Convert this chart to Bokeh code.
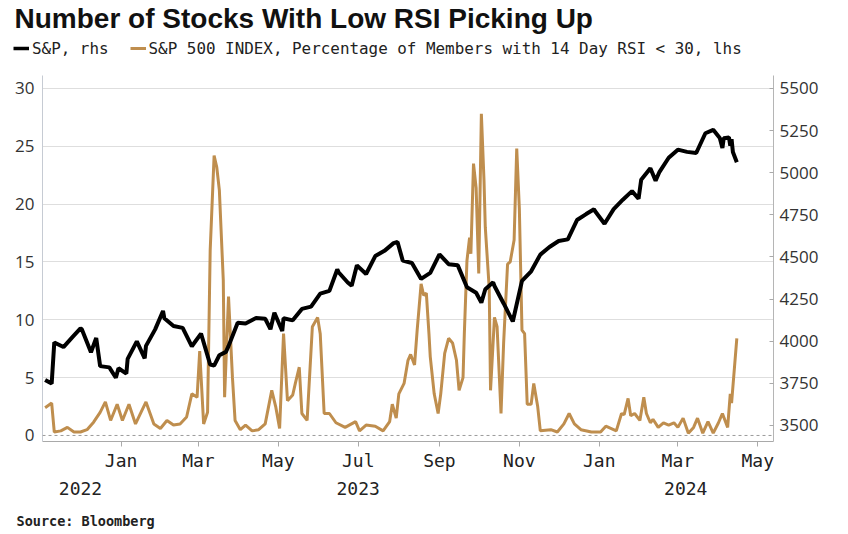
import pandas as pd
from bokeh.plotting import figure
from bokeh.layouts import column
from bokeh.models import (Range1d, LinearAxis, DatetimeAxis, FixedTicker, DatetimeTickFormatter,
                          Legend, LegendItem, Label, Span)
from bokeh.embed import file_html
from bokeh.resources import INLINE

# ---------------- data ----------------
spx_dates = ["2022-11-04", "2022-11-09", "2022-11-11", "2022-11-18", "2022-11-25", "2022-12-01",
             "2022-12-02", "2022-12-09", "2022-12-13", "2022-12-16", "2022-12-23", "2022-12-28",
             "2022-12-30", "2023-01-05", "2023-01-06", "2023-01-13", "2023-01-19", "2023-01-20",
             "2023-01-27", "2023-02-02", "2023-02-03", "2023-02-10", "2023-02-17", "2023-02-24",
             "2023-03-03", "2023-03-10", "2023-03-13", "2023-03-17", "2023-03-22", "2023-03-24",
             "2023-03-31", "2023-04-06", "2023-04-14", "2023-04-21", "2023-04-25", "2023-04-28",
             "2023-05-04", "2023-05-05", "2023-05-12", "2023-05-19", "2023-05-26", "2023-06-02",
             "2023-06-09", "2023-06-15", "2023-06-16", "2023-06-23", "2023-06-26", "2023-06-30",
             "2023-07-07", "2023-07-14", "2023-07-21", "2023-07-28", "2023-07-31", "2023-08-04",
             "2023-08-11", "2023-08-18", "2023-08-25", "2023-09-01", "2023-09-08", "2023-09-15",
             "2023-09-22", "2023-09-29", "2023-10-03", "2023-10-06", "2023-10-12", "2023-10-13",
             "2023-10-20", "2023-10-27", "2023-11-03", "2023-11-10", "2023-11-17", "2023-11-24",
             "2023-12-01", "2023-12-08", "2023-12-15", "2023-12-22", "2023-12-28", "2023-12-29",
             "2024-01-05", "2024-01-12", "2024-01-19", "2024-01-26", "2024-01-31", "2024-02-02",
             "2024-02-09", "2024-02-13", "2024-02-16", "2024-02-23", "2024-03-01", "2024-03-08",
             "2024-03-15", "2024-03-22", "2024-03-28", "2024-04-02", "2024-04-04", "2024-04-05",
             "2024-04-09", "2024-04-10", "2024-04-11", "2024-04-12", "2024-04-15"]
spx_values = [3770.55, 3748.57, 3992.93, 3965.34, 4026.12, 4076.57,
              4071.70, 3934.38, 4019.65, 3852.36, 3844.82, 3783.22,
              3839.50, 3808.10, 3895.08, 3999.09, 3898.85, 3972.61,
              4070.56, 4179.76, 4136.48, 4090.46, 4079.09, 3970.04,
              4045.64, 3861.59, 3855.76, 3916.64, 3936.97, 3970.99,
              4109.31, 4105.02, 4137.64, 4133.52, 4071.63, 4169.48,
              4061.22, 4136.25, 4124.08, 4191.98, 4205.45, 4282.37,
              4298.86, 4425.84, 4409.59, 4348.33, 4328.82, 4450.38,
              4398.95, 4505.42, 4536.34, 4582.23, 4588.96, 4478.03,
              4464.05, 4369.71, 4405.71, 4515.77, 4457.49, 4450.32,
              4320.06, 4288.05, 4229.45, 4308.50, 4349.61, 4327.78,
              4224.16, 4117.37, 4358.34, 4415.24, 4514.02, 4559.34,
              4594.63, 4604.37, 4719.19, 4754.63, 4783.35, 4769.83,
              4697.24, 4783.83, 4839.81, 4890.97, 4845.65, 4958.61,
              5026.61, 4953.17, 5005.57, 5088.80, 5137.08, 5123.69,
              5117.09, 5234.18, 5254.35, 5205.81, 5147.21, 5204.34,
              5209.91, 5160.64, 5199.06, 5123.41, 5061.82]

rsi_dates = ["2022-11-04", "2022-11-09", "2022-11-11", "2022-11-16", "2022-11-21", "2022-11-26",
             "2022-12-01", "2022-12-06", "2022-12-11", "2022-12-16", "2022-12-20", "2022-12-24",
             "2022-12-29", "2023-01-02", "2023-01-07", "2023-01-12", "2023-01-20", "2023-01-26",
             "2023-01-31", "2023-02-05", "2023-02-10", "2023-02-15", "2023-02-20", "2023-02-24",
             "2023-02-28", "2023-03-02", "2023-03-05", "2023-03-08", "2023-03-10", "2023-03-13",
             "2023-03-15", "2023-03-17", "2023-03-20", "2023-03-21", "2023-03-24", "2023-03-27",
             "2023-03-29", "2023-04-02", "2023-04-06", "2023-04-11", "2023-04-16", "2023-04-21",
             "2023-04-26", "2023-04-29", "2023-05-02", "2023-05-05", "2023-05-08", "2023-05-12",
             "2023-05-14", "2023-05-17", "2023-05-19", "2023-05-23", "2023-05-27", "2023-05-31",
             "2023-06-02", "2023-06-05", "2023-06-09", "2023-06-14", "2023-06-21", "2023-06-29",
             "2023-07-02", "2023-07-07", "2023-07-14", "2023-07-20", "2023-07-25", "2023-07-27",
             "2023-07-30", "2023-08-01", "2023-08-05", "2023-08-08", "2023-08-10", "2023-08-13",
             "2023-08-15", "2023-08-18", "2023-08-20", "2023-08-22", "2023-08-24", "2023-08-25",
             "2023-08-28", "2023-08-31", "2023-09-02", "2023-09-05", "2023-09-08", "2023-09-11",
             "2023-09-14", "2023-09-16", "2023-09-19", "2023-09-20", "2023-09-22", "2023-09-24",
             "2023-09-25", "2023-09-27", "2023-09-29", "2023-10-01", "2023-10-03", "2023-10-05",
             "2023-10-06", "2023-10-09", "2023-10-10", "2023-10-13", "2023-10-15", "2023-10-18",
             "2023-10-20", "2023-10-23", "2023-10-25", "2023-10-28", "2023-10-30", "2023-11-01",
             "2023-11-03", "2023-11-05", "2023-11-07", "2023-11-10", "2023-11-12", "2023-11-15",
             "2023-11-17", "2023-11-25", "2023-11-30", "2023-12-05", "2023-12-09", "2023-12-13",
             "2023-12-18", "2023-12-26", "2024-01-02", "2024-01-06", "2024-01-14", "2024-01-18",
             "2024-01-20", "2024-01-23", "2024-01-25", "2024-01-28", "2024-02-01", "2024-02-04",
             "2024-02-06", "2024-02-09", "2024-02-11", "2024-02-15", "2024-02-19", "2024-02-23",
             "2024-02-27", "2024-03-01", "2024-03-05", "2024-03-09", "2024-03-13", "2024-03-16",
             "2024-03-20", "2024-03-24", "2024-03-28", "2024-04-01", "2024-04-04", "2024-04-08",
             "2024-04-10", "2024-04-11", "2024-04-15"]
rsi_values = [2.4, 2.8, 0.3, 0.4, 0.7, 0.3,
              0.3, 0.5, 1.15, 2.0, 2.9, 1.3,
              2.7, 1.3, 2.7, 1.0, 2.9, 1.0,
              0.6, 1.3, 0.9, 1.0, 1.6, 3.6,
              3.3, 7.3, 1.0, 2.0, 16.0, 24.2,
              23.2, 21.2, 13.4, 3.3, 12.0, 5.0,
              1.3, 0.5, 0.9, 0.4, 0.5, 1.0,
              3.9, 2.5, 0.6, 8.8, 3.0, 3.5,
              4.5, 5.9, 1.9, 1.3, 9.4, 10.2,
              8.8, 1.9, 1.9, 1.1, 0.7, 1.2,
              0.4, 0.9, 0.8, 0.4, 1.2, 2.7,
              1.5, 3.6, 4.5, 6.5, 7.0, 6.1,
              9.1, 13.1, 12.1, 12.3, 8.8, 6.8,
              3.6, 1.9, 3.6, 7.1, 8.4, 8.0,
              6.5, 3.9, 5.0, 8.8, 15.1, 17.1,
              15.7, 23.5, 21.4, 14.0, 27.8, 22.1,
              18.0, 12.7, 3.9, 10.2, 9.4, 1.9,
              8.0, 14.8, 15.0, 16.9, 24.8, 19.6,
              9.1, 8.8, 2.7, 2.7, 4.5, 2.5,
              0.4, 0.5, 0.3, 1.0, 1.9, 1.0,
              0.5, 0.3, 0.3, 0.8, 0.4, 1.9,
              1.8, 3.2, 1.7, 1.9, 1.3, 3.3,
              1.9, 1.1, 1.4, 0.7, 1.1, 0.9,
              1.1, 0.7, 1.5, 0.2, 0.7, 1.5,
              0.2, 1.2, 0.2, 1.1, 1.9, 0.7,
              3.6, 2.8, 8.4]

left_ticks = [0, 5, 10, 15, 20, 25, 30]
right_ticks = [3500, 3750, 4000, 4250, 4500, 4750, 5000, 5250, 5500]
month_tick_dates = ["2023-01-01", "2023-03-01", "2023-05-01", "2023-07-01", "2023-09-01",
                    "2023-11-01", "2024-01-01", "2024-03-01", "2024-05-01"]
year_label_dates = ["2022-12-01", "2023-07-01", "2024-03-07"]

title_text = "Number of Stocks With Low RSI Picking Up"
spx_label = "S&P, rhs"
rsi_label = "S&P 500 INDEX, Percentage of Members with 14 Day RSI < 30, lhs"
source_text = "Source: Bloomberg"

SPX_COLOR = "black"
RSI_COLOR = "#bf8e4e"
MONO = "DejaVu Sans Mono"
W = 848
NAN = float("nan")


def ms(d):
    return pd.Timestamp(d).timestamp() * 1000.0


def blank(height):
    f = figure(width=W, height=height, x_range=Range1d(0, W), y_range=Range1d(0, height),
               x_axis_type=None, y_axis_type=None, output_backend="svg",
               toolbar_location=None, min_border=0, frame_align=False)
    f.outline_line_color = None
    f.grid.visible = False
    f.background_fill_color = "white"
    f.border_fill_color = "white"
    return f


# ---------------- header: title + legend ----------------
head = blank(70)
head.add_layout(Label(x=14, y=52, x_units="screen", y_units="screen", text=title_text,
                      text_font="Liberation Sans", text_font_style="bold",
                      text_font_size="28px", text_color="#111111", text_baseline="middle"))
# legend-only renderers (they hold no visible data)
h_spx = head.line(x=[NAN], y=[NAN], line_color=SPX_COLOR, line_width=3.5)
h_rsi = head.line(x=[NAN], y=[NAN], line_color=RSI_COLOR, line_width=3)
legend = Legend(items=[LegendItem(label=spx_label, renderers=[h_spx]),
                       LegendItem(label=rsi_label, renderers=[h_rsi])],
                location=(13, 12), orientation="horizontal",
                glyph_width=16, glyph_height=20, label_height=20, label_standoff=3,
                spacing=21, padding=0, margin=0,
                border_line_color=None, background_fill_alpha=0,
                label_text_font=MONO, label_text_font_size="15.9px",
                label_text_color="#222222")
head.add_layout(legend)

# ---------------- main chart ----------------
p = figure(width=W, height=435, x_axis_type="datetime",
           x_range=Range1d(pd.Timestamp("2022-11-02"), pd.Timestamp("2024-05-13")),
           y_range=Range1d(-0.52, 31.11),
           output_backend="svg", toolbar_location=None,
           min_border_left=42, min_border_right=75, min_border_top=5, min_border_bottom=64)
p.outline_line_color = None
p.background_fill_color = "white"
p.border_fill_color = "white"

p.extra_y_ranges = {"spx": Range1d(3405, 5577)}

ya = p.yaxis[0]
ya.ticker = FixedTicker(ticks=left_ticks)
ya.major_tick_out = 0
ya.major_tick_in = 0
ya.minor_tick_line_color = None
ya.axis_line_color = "#c6cbd3"
ya.major_label_standoff = 8
ya.major_label_text_font = "Open Sans"
ya.major_label_text_font_size = "17px"
ya.major_label_text_color = "#333333"

ra = LinearAxis(y_range_name="spx", ticker=FixedTicker(ticks=right_ticks))
ra.major_tick_out = 0
ra.major_tick_in = 4
ra.major_tick_line_color = "#aaaaaa"
ra.minor_tick_line_color = None
ra.axis_line_color = "#b5b5b5"
ra.major_label_standoff = 6
ra.major_label_text_font = "Open Sans"
ra.major_label_text_font_size = "17px"
ra.major_label_text_color = "#333333"
p.add_layout(ra, "right")

xa = p.xaxis[0]
xa.ticker = FixedTicker(ticks=[ms(d) for d in month_tick_dates])
xa.formatter = DatetimeTickFormatter(days="%b", months="%b", years="%b")
xa.major_tick_out = 5
xa.major_tick_in = 0
xa.major_tick_line_color = "#aaaaaa"
xa.minor_tick_line_color = None
xa.axis_line_color = "#a9a9a9"
xa.major_label_standoff = 3
xa.major_label_text_font = MONO
xa.major_label_text_font_size = "18px"
xa.major_label_text_color = "#222222"

yr = DatetimeAxis(ticker=FixedTicker(ticks=[ms(d) for d in year_label_dates]),
                  formatter=DatetimeTickFormatter(days="%Y", months="%Y", years="%Y"))
yr.axis_line_color = None
yr.major_tick_line_color = None
yr.minor_tick_line_color = None
yr.major_label_standoff = 2
yr.major_label_text_font = MONO
yr.major_label_text_font_size = "18px"
yr.major_label_text_color = "#222222"
p.add_layout(yr, "below")

p.xgrid.grid_line_color = None
p.ygrid.ticker = FixedTicker(ticks=left_ticks[1:])
p.ygrid.grid_line_color = "#dedede"
p.ygrid.grid_line_width = 1
p.add_layout(Span(location=0, dimension="width", line_color="#9c9c9c",
                  line_dash="3 3", line_width=1))

p.line(pd.to_datetime(rsi_dates), rsi_values, line_color=RSI_COLOR, line_width=3)
p.line(pd.to_datetime(spx_dates), spx_values, y_range_name="spx",
       line_color=SPX_COLOR, line_width=4)

# ---------------- footer: source ----------------
foot = blank(29)
foot.add_layout(Label(x=16, y=14, x_units="screen", y_units="screen", text=source_text,
                      text_font=MONO, text_font_style="bold",
                      text_font_size="13.5px", text_color="#222222", text_baseline="middle"))

layout = column(head, p, foot, spacing=0)
open("out.html", "w").write(file_html(layout, INLINE))
